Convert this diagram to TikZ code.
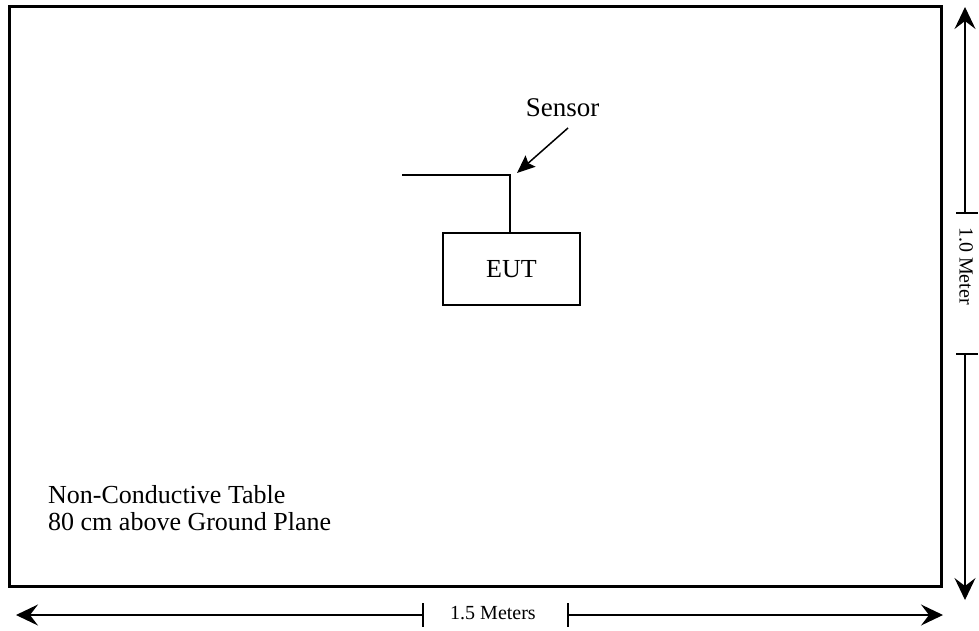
\documentclass[tikz,border=0pt]{standalone}
\usepackage{fontspec}
\setmainfont{Liberation Serif}
\usetikzlibrary{arrows.meta}
\begin{document}
\begin{tikzpicture}[x=1pt,y=-1pt,
  thin line/.style={line width=1.4pt},
  dimarrow/.style={line width=1.2pt,-{Stealth[length=22pt,width=21pt,inset=8pt]}},
  tick/.style={line width=1.2pt},
  lbl/.style={inner sep=0pt,anchor=base west,font=\fontsize{26}{27}\selectfont}]
\useasboundingbox (0,0) rectangle (979,630);
% table
\node[draw,line width=3.5pt,minimum width=932pt,minimum height=580pt,inner sep=0pt] (table) at (475.5,296.5) {};
% EUT
\node[draw,thin line,minimum width=137pt,minimum height=72pt,inner sep=0pt,font=\fontsize{26}{28}\selectfont] (eut) at (511.5,269) {EUT};
\coordinate (bend) at (510,175);
\coordinate (lend) at (402,175);
\draw[thin line] (eut.north -| bend) -- (bend) -- (lend);
% sensor
\node[inner sep=0pt,anchor=base,font=\fontsize{27}{30}\selectfont] (sensor) at (562.5,116) {Sensor};
\coordinate (stip) at (517,173);
\coordinate (stail) at (568,128);
\draw[line width=1.5pt,-{Stealth[length=18pt,width=15pt,inset=3pt]}] (stail) -- (stip);
% table caption
\node[lbl] (cap1) at (48,503) {Non-Conductive Table};
\node[lbl] (cap2) at (48,530) {80 cm above Ground Plane};
% horizontal dimension
\node[inner sep=0pt,anchor=base,font=\fontsize{20}{22}\selectfont] (hlab) at (493,619) {1.5 Meters};
\coordinate (hl) at (423,615);
\coordinate (hr) at (568,615);
\coordinate (hle) at (16,615);
\coordinate (hre) at (943,615);
\draw[dimarrow] (hl) -- (hle);
\draw[dimarrow] (hr) -- (hre);
\draw[tick] (423,603) -- (423,627);
\draw[tick] (568,603) -- (568,627);
% vertical dimension
\node[rotate=-90,font=\fontsize{20}{22}\selectfont] (vlab) at (966,266) {1.0 Meter};
\coordinate (vt) at (965,213);
\coordinate (vb) at (965,354);
\coordinate (vte) at (965,7);
\coordinate (vbe) at (965,600);
\draw[dimarrow] (vt) -- (vte);
\draw[dimarrow] (vb) -- (vbe);
\draw[tick] (956,213) -- (978,213);
\draw[tick] (956,354) -- (978,354);
\end{tikzpicture}
\end{document}
